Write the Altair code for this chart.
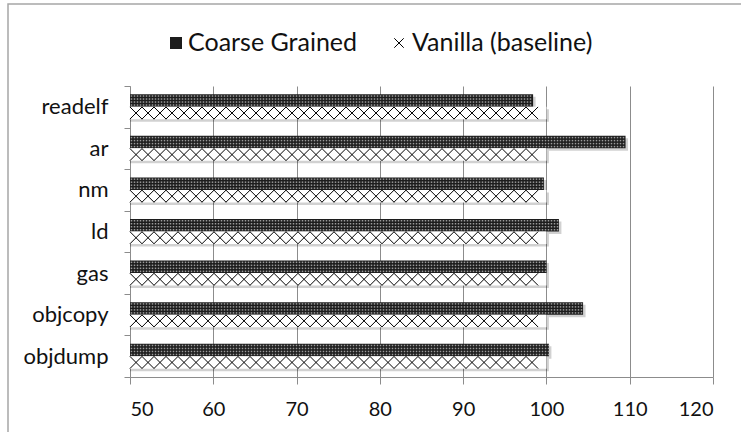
import altair as alt
import pandas as pd

# ---------------- data ----------------
categories = ["readelf", "ar", "nm", "ld", "gas", "objcopy", "objdump"]
coarse = [98.4, 109.5, 99.7, 101.5, 100.0, 104.4, 100.3]
vanilla = [100, 100, 100, 100, 100, 100, 100]
series_names = ["Coarse Grained", "Vanilla (baseline)"]
x_ticks = [50, 60, 70, 80, 90, 100, 110, 120]

df = pd.DataFrame({"cat": categories, "coarse": coarse, "vanilla": vanilla})

# ---------------- style ----------------
FONT = "Lato"
W, H = 583, 291
X_MIN, X_MAX = 50, 120
UNIT = (X_MAX - X_MIN) / W          # data units per pixel
BAR_H = 12.5
GRID = "#8c8c8c"
DARK = "#1c1c1c"
TEXT = "#111111"

y_scale = alt.Scale(domain=categories, paddingInner=0, paddingOuter=0)
x_scale = alt.Scale(domain=[X_MIN, X_MAX], nice=False, zero=False)

y_enc = alt.Y(
    "cat:N", sort=categories, scale=y_scale,
    axis=alt.Axis(title=None, tickBand="extent", domainColor=GRID, tickColor=GRID,
                  tickSize=6, labelPadding=16, labelFontSize=22, labelFont=FONT,
                  labelColor=TEXT, grid=False),
)

def x_enc(field):
    return alt.X(
        field, scale=x_scale,
        axis=alt.Axis(title=None, values=x_ticks, grid=True, gridColor=GRID,
                      domainColor=GRID, tickColor=GRID, tickSize=7, labelPadding=15,
                      labelFontSize=20, labelFont=FONT, labelColor=TEXT),
    )

base = alt.Chart(df)

# shadows
shadow_c = base.mark_bar(height=BAR_H, yOffset=-BAR_H / 2 + 2.5, xOffset=2.5,
                         color="#000000", opacity=0.18).encode(
    x=x_enc("coarse:Q"), x2=alt.datum(X_MIN), y=y_enc)
shadow_v = base.mark_bar(height=BAR_H, yOffset=BAR_H / 2 + 2.5, xOffset=2.5,
                         color="#000000", opacity=0.18).encode(
    x=x_enc("vanilla:Q"), x2=alt.datum(X_MIN), y=y_enc)

# bars
bar_c = base.mark_bar(height=BAR_H, yOffset=-BAR_H / 2, color=DARK).encode(
    x=x_enc("coarse:Q"), x2=alt.datum(X_MIN), y=y_enc)
bar_v = base.mark_bar(height=BAR_H, yOffset=BAR_H / 2, color="#ffffff").encode(
    x=x_enc("vanilla:Q"), x2=alt.datum(X_MIN), y=y_enc)

# coarse dot texture
d = 3 * UNIT
dot_layers = []
for off in [-4.5, -1.5, 1.5, 4.5]:
    dot_layers.append(
        base.transform_calculate(
            xs=f"sequence({X_MIN} + {d / 2}, datum.coarse, {d})"
        ).transform_flatten(["xs"]).mark_square(
            size=2.25, color="#9a9a9a", opacity=1, yOffset=-BAR_H / 2 + off
        ).encode(x=alt.X("xs:Q", scale=x_scale), y=alt.Y("cat:N", sort=categories, scale=y_scale))
    )

# vanilla cross-hatch
cell = 12 * UNIT
X_PATH = "M-1,-1L1,1M-1,1L1,-1"
hatch = base.transform_calculate(
    xs=f"sequence({X_MIN} + {cell / 2}, datum.vanilla - {cell / 2} + 0.0001, {cell})"
).transform_flatten(["xs"]).mark_point(
    shape=X_PATH, size=150, filled=False, stroke="#000000", strokeWidth=1,
    opacity=1, yOffset=BAR_H / 2
).encode(x=alt.X("xs:Q", scale=x_scale), y=alt.Y("cat:N", sort=categories, scale=y_scale))

# legend (manual)
one = alt.Data(values=[{"a": 1}])
LEG_Y = -43
leg_sq = alt.Chart(one).mark_square(size=144, color=DARK, opacity=1).encode(
    x=alt.value(46), y=alt.value(LEG_Y))
leg_x = alt.Chart(one).mark_point(shape=X_PATH, size=90, filled=False, stroke="#000000",
                                  strokeWidth=1, opacity=1).encode(
    x=alt.value(269), y=alt.value(LEG_Y))
leg_t1 = alt.Chart(alt.Data(values=[{"t": series_names[0]}])).mark_text(
    align="left", baseline="middle", font=FONT, fontSize=25, color=TEXT).encode(
    text="t:N", x=alt.value(58), y=alt.value(LEG_Y))
leg_t2 = alt.Chart(alt.Data(values=[{"t": series_names[1]}])).mark_text(
    align="left", baseline="middle", font=FONT, fontSize=25, color=TEXT).encode(
    text="t:N", x=alt.value(282), y=alt.value(LEG_Y))

# outer chart border
border = alt.Chart(one).mark_rect(fill=None, stroke="#a6a6a6", strokeWidth=1.5).encode(
    x=alt.value(-122), y=alt.value(-82), x2=alt.value(W + 60), y2=alt.value(H + 80))

chart = alt.layer(
    shadow_c, shadow_v, bar_c, bar_v, *dot_layers, hatch,
    leg_sq, leg_x, leg_t1, leg_t2, border
).properties(
    width=W, height=H,
    padding={"left": 130, "top": 86, "right": 28, "bottom": 55},
    autosize=alt.AutoSizeParams(type="none"),
    background="#ffffff",
).configure_view(stroke=None)

chart.save("out.html", embed_options={"renderer": "svg", "actions": False})
